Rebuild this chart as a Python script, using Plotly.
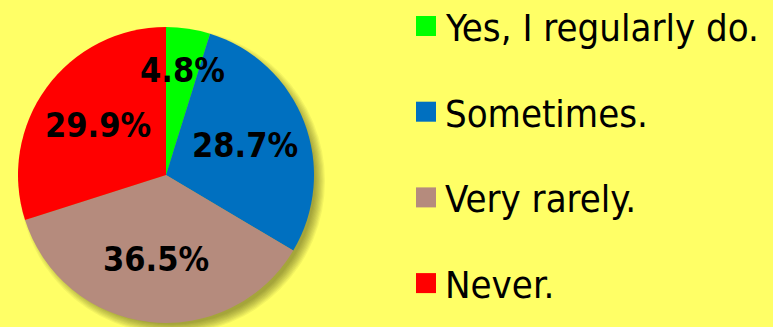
import math
import plotly.graph_objects as go

# Survey answers and their shares (%)
categories = ["Yes, I regularly do.", "Sometimes.", "Very rarely.", "Never."]
shares = [4.8, 28.7, 36.5, 29.9]
colors = ["#00FF00", "#0070C0", "#B58B7D", "#FF0000"]

W, H = 773, 327
BG = "#FFFF66"
CX, CY, R = 166, 175, 148          # pie centre / radius in px (y from top)
LABEL_FONT = "DejaVu Sans Condensed, DejaVu Sans, sans-serif"


def px_x(x):
    return x / W


def px_y(y):
    return (H - y) / H


fig = go.Figure()

fig.add_trace(go.Pie(
    labels=categories,
    values=shares,
    sort=False,
    direction="clockwise",
    rotation=0,
    marker=dict(colors=colors, line=dict(width=0)),
    textinfo="none",
    hoverinfo="label+percent",
    showlegend=False,
    domain=dict(x=[px_x(CX - R), px_x(CX + R)], y=[px_y(CY + R), px_y(CY - R)]),
))

shapes = []
# soft drop shadow behind the pie: stacked translucent discs
SH_DX, SH_DY = 6, 6
for k in range(9):
    rr = R + 5 - k * 1.2
    shapes.append(dict(
        type="circle", xref="paper", yref="paper", layer="below",
        x0=px_x(CX + SH_DX - rr), x1=px_x(CX + SH_DX + rr),
        y0=px_y(CY + SH_DY + rr), y1=px_y(CY + SH_DY - rr),
        fillcolor="rgba(40,40,0,0.055)", line=dict(width=0),
    ))

annotations = []
# percentage labels placed at each slice's mid angle
total = sum(shares)
cum = 0.0
for v in shares:
    frac = v / total
    mid = (cum + frac / 2) * 2 * math.pi
    cum += frac
    rf = 0.72 if frac < 0.1 else 0.57
    x = CX + rf * R * math.sin(mid)
    y = CY - rf * R * math.cos(mid)
    annotations.append(dict(
        x=px_x(x), y=px_y(y), xref="paper", yref="paper",
        text=f"<b>{v:.1f}%</b>", showarrow=False,
        xanchor="center", yanchor="middle",
        font=dict(family=LABEL_FONT, size=34, color="#000000"),
    ))

# legend: coloured squares with category text
LEG_X, LEG_Y0, LEG_GAP, SQ = 416, 26, 85.7, 20
for i, (name, c) in enumerate(zip(categories, colors)):
    yc = LEG_Y0 + i * LEG_GAP
    shapes.append(dict(
        type="rect", xref="paper", yref="paper",
        x0=px_x(LEG_X), x1=px_x(LEG_X + SQ),
        y0=px_y(yc + SQ / 2), y1=px_y(yc - SQ / 2),
        fillcolor=c, line=dict(width=0),
    ))
    annotations.append(dict(
        x=px_x(LEG_X + SQ + 7), y=px_y(yc + 2), xref="paper", yref="paper",
        text=name, showarrow=False, xanchor="left", yanchor="middle",
        font=dict(family=LABEL_FONT, size=38, color="#000000"),
    ))

fig.update_layout(
    width=W, height=H,
    margin=dict(l=0, r=0, t=0, b=0),
    paper_bgcolor=BG, plot_bgcolor=BG,
    shapes=shapes, annotations=annotations,
    showlegend=False,
)

fig.write_html("out.html")
